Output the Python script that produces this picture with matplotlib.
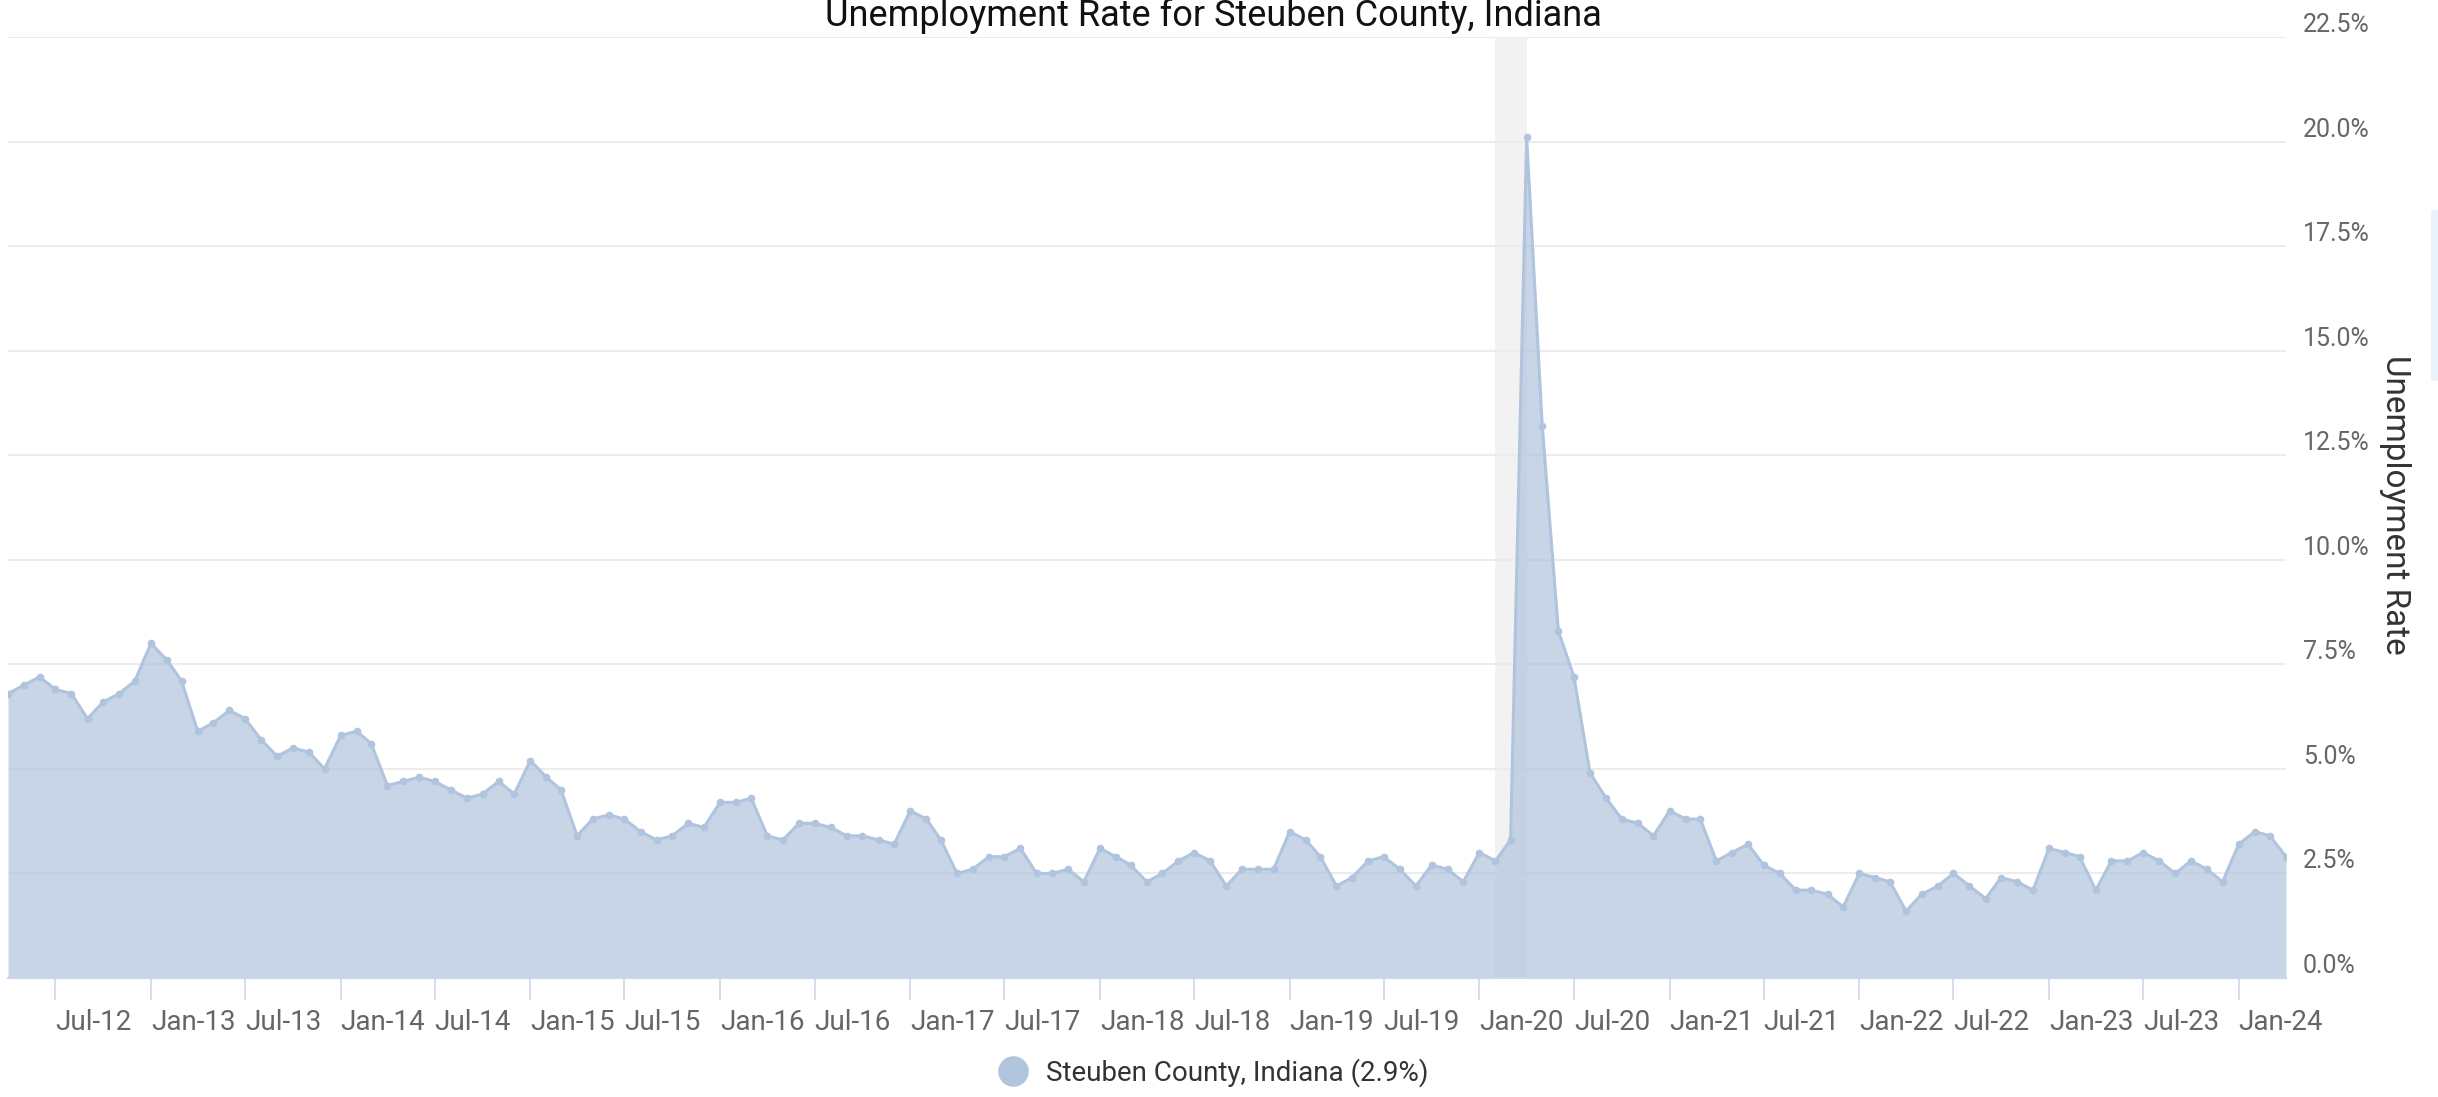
import pandas as pd
import matplotlib.pyplot as plt
import matplotlib.dates as mdates
from matplotlib.lines import Line2D
from matplotlib.patches import Rectangle

plt.rcParams['font.family'] = ['Roboto', 'DejaVu Sans']

# monthly unemployment rate, Apr 2012 .. Apr 2024
start_month = '2012-04-01'
rate = [6.8, 7.0, 7.2, 6.9, 6.8, 6.2, 6.6, 6.8, 7.1,
        8.0, 7.6, 7.1, 5.9, 6.1, 6.4, 6.2, 5.7, 5.3, 5.5, 5.4, 5.0,
        5.8, 5.9, 5.6, 4.6, 4.7, 4.8, 4.7, 4.5, 4.3, 4.4, 4.7, 4.4,
        5.2, 4.8, 4.5, 3.4, 3.8, 3.9, 3.8, 3.5, 3.3, 3.4, 3.7, 3.6,
        4.2, 4.2, 4.3, 3.4, 3.3, 3.7, 3.7, 3.6, 3.4, 3.4, 3.3, 3.2,
        4.0, 3.8, 3.3, 2.5, 2.6, 2.9, 2.9, 3.1, 2.5, 2.5, 2.6, 2.3,
        3.1, 2.9, 2.7, 2.3, 2.5, 2.8, 3.0, 2.8, 2.2, 2.6, 2.6, 2.6,
        3.5, 3.3, 2.9, 2.2, 2.4, 2.8, 2.9, 2.6, 2.2, 2.7, 2.6, 2.3,
        3.0, 2.8, 3.3, 20.1, 13.2, 8.3, 7.2, 4.9, 4.3, 3.8, 3.7, 3.4,
        4.0, 3.8, 3.8, 2.8, 3.0, 3.2, 2.7, 2.5, 2.1, 2.1, 2.0, 1.7,
        2.5, 2.4, 2.3, 1.6, 2.0, 2.2, 2.5, 2.2, 1.9, 2.4, 2.3, 2.1,
        3.1, 3.0, 2.9, 2.1, 2.8, 2.8, 3.0, 2.8, 2.5, 2.8, 2.6, 2.3,
        3.2, 3.5, 3.4, 2.9]
recession = ('2020-02-01', '2020-04-01')
y_ticks = [0, 2.5, 5, 7.5, 10, 12.5, 15, 17.5, 20, 22.5]
series_name = 'Steuben County, Indiana'
title = 'Unemployment Rate for Steuben County, Indiana'

months = pd.date_range(start_month, periods=len(rate), freq='MS')

line_color = '#b0c4de'
grid_color = '#ececec'
axis_color = '#ccd6eb'
label_color = '#666666'

fig = plt.figure(figsize=(24.38, 10.97), dpi=100)
ax = fig.add_axes([8 / 2438, 119 / 1097, 2278 / 2438, 941 / 1097])

# recession shading
ax.axvspan(pd.Timestamp(recession[0]), pd.Timestamp(recession[1]),
           color='#f2f2f2', lw=0, zorder=0)

ax.fill_between(months, rate, 0, color=line_color, alpha=0.7, lw=0, zorder=2)
ax.plot(months, rate, color=line_color, lw=2.2, marker='o', markersize=4.5,
        zorder=3)

ax.set_xlim(months[0], months[-1])
ax.set_ylim(0, 22.5)
ax.set_yticks(y_ticks)
ax.set_yticklabels(['%.1f%%' % v for v in y_ticks])
ax.yaxis.tick_right()
ax.tick_params(axis='y', length=0, pad=12, labelsize=18, labelcolor=label_color)
for lbl in ax.get_yticklabels():
    lbl.set_verticalalignment('bottom')
ax.set_axisbelow(True)
ax.grid(axis='y', color=grid_color, lw=1.5)

# half-year ticks, labels sit to the right of each tick
ax.xaxis.set_major_locator(mdates.MonthLocator(bymonth=[1, 7]))
ax.xaxis.set_major_formatter(mdates.DateFormatter('%b-%y'))
ax.tick_params(axis='x', length=16, width=1.2, color=axis_color, pad=6,
               labelsize=20, labelcolor=label_color)
for lbl in ax.get_xticklabels():
    lbl.set_horizontalalignment('left')

for side in ['top', 'left', 'right']:
    ax.spines[side].set_visible(False)
ax.spines['bottom'].set_color(axis_color)
ax.spines['bottom'].set_linewidth(1.5)
ax.spines['bottom'].set_zorder(4)

fig.text(2395 / 2438, 1 - 505 / 1097, 'Unemployment Rate', rotation=-90,
         ha='center', va='center', fontsize=24, color='#333333')
fig.text(1213 / 2438, 1 - 26 / 1097, title, ha='center', va='baseline',
         fontsize=26, color='#111111')

# legend
handle = Line2D([], [], ls='none', marker='o', markersize=21, color=line_color)
fig.legend([handle], ['%s (%.1f%%)' % (series_name, rate[-1])],
           loc='center', bbox_to_anchor=(1207 / 2438, 1 - 1073 / 1097),
           frameon=False, fontsize=20, handletextpad=0.2,
           labelcolor='#333333')

# scroll marker at the right edge
fig.patches.append(Rectangle((2431 / 2438, 1 - 381 / 1097), 7 / 2438, 171 / 1097,
                             transform=fig.transFigure, color='#eaf2fb', lw=0))

fig.savefig('out.png', dpi=100)
